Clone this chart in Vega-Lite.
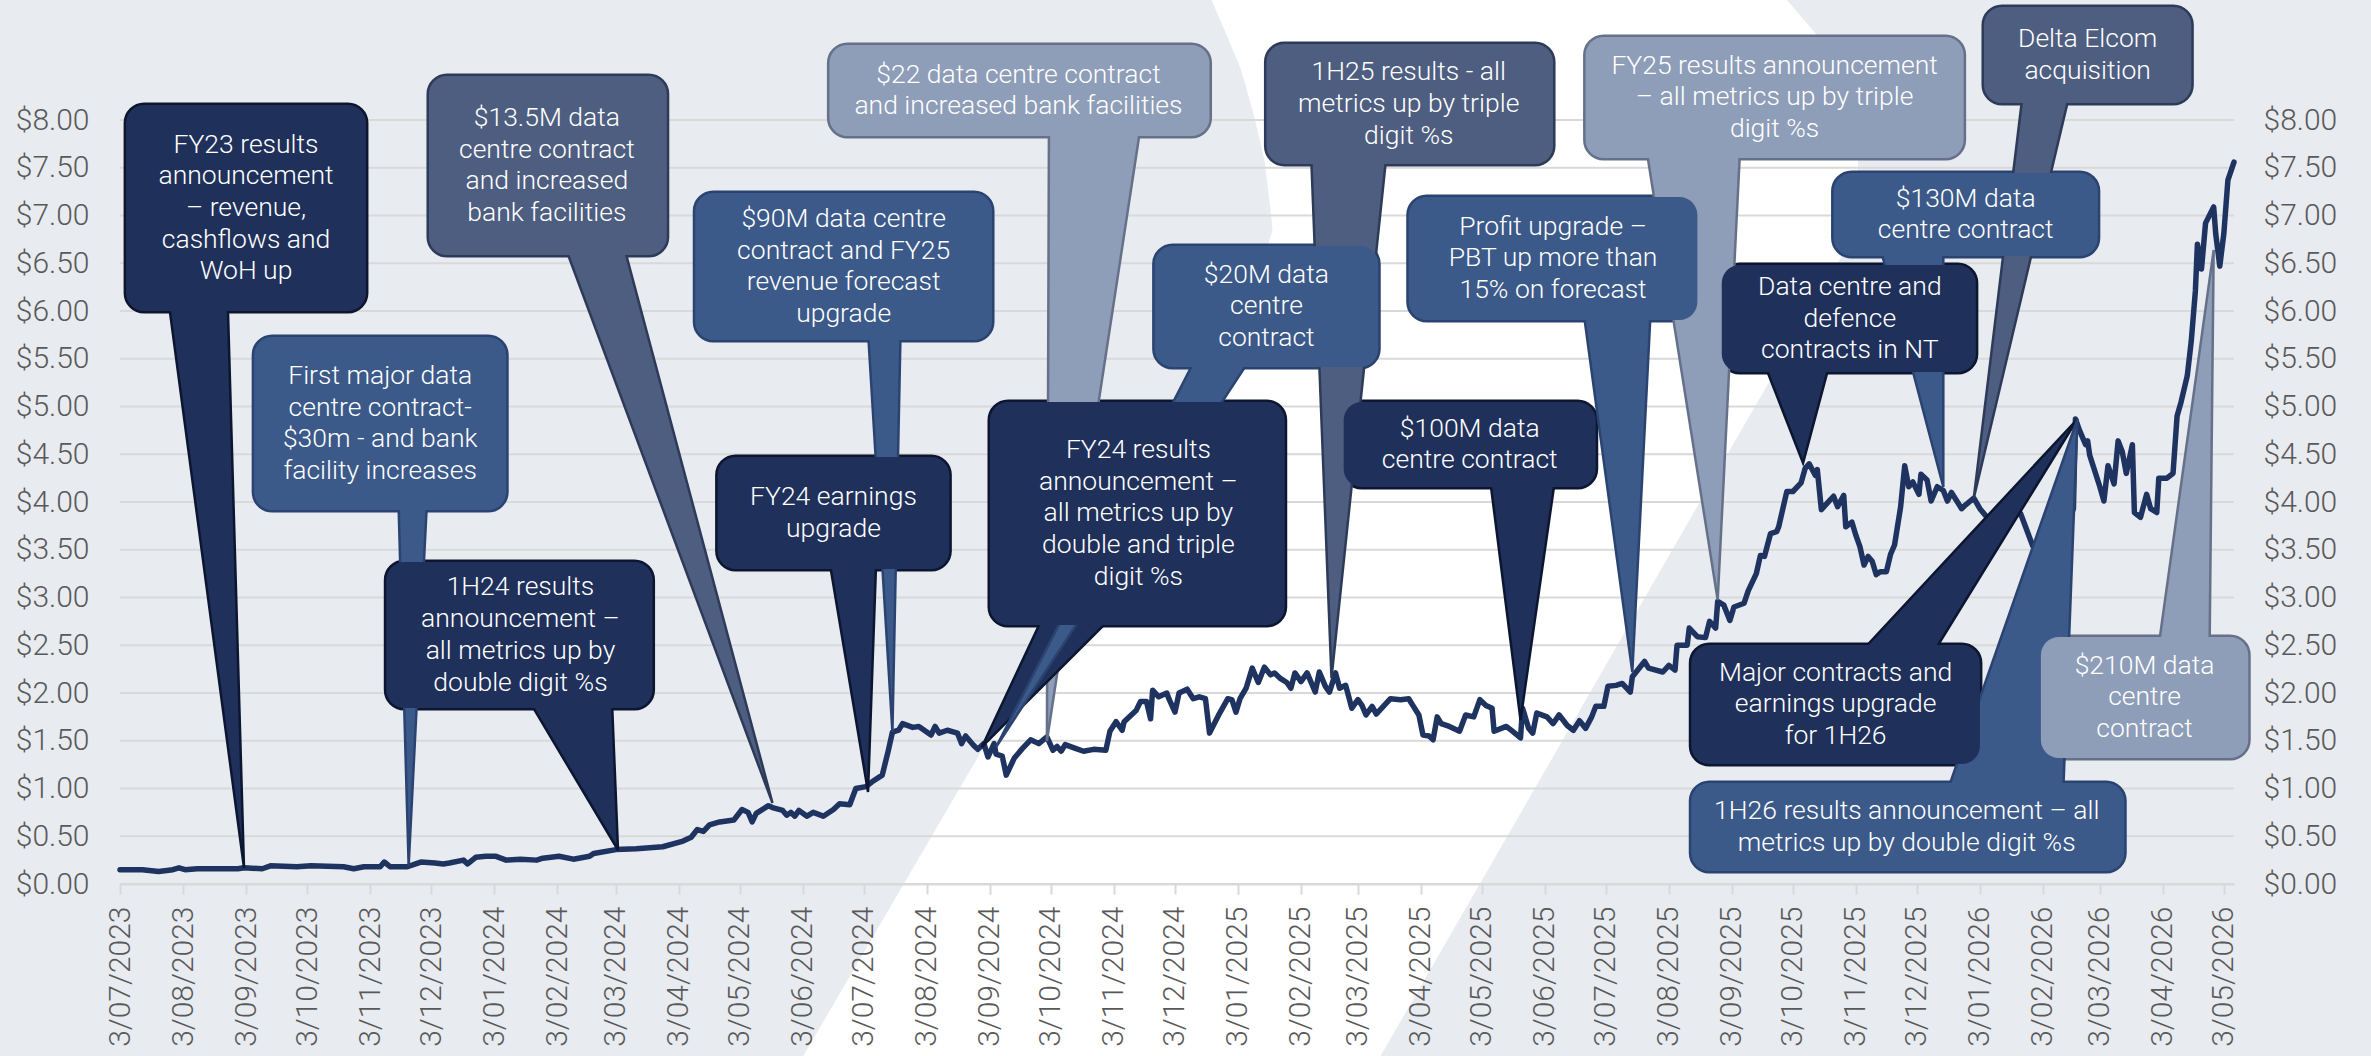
{
"$schema": "https://vega.github.io/schema/vega-lite/v6.json",
"width": 2114, "height": 764,
"autosize": {"type": "none"},
"padding": {"left": 120, "top": 120, "right": 137, "bottom": 172},
"background": "#e8ebf0",
"config": {"view": {"stroke": null},
"axisX": {"labelAngle": 270, "labelFont": "Roboto", "labelFontWeight": 300, "labelFontSize": 30, "labelColor": "#595959", "labelPadding": 12, "tickSize": 10, "tickColor": "#d9d9d9", "tickWidth": 2, "domainColor": "#d9d9d9", "domainWidth": 2, "grid": false, "labelOverlap": false, "labelBound": false, "labelFlush": false}},
"resolve": {"axis": {"y": "independent"}},
"datasets": {
"grid": [{"v":0},{"v":0.5},{"v":1},{"v":1.5},{"v":2},{"v":2.5},{"v":3},{"v":3.5},{"v":4},{"v":4.5},{"v":5},{"v":5.5},{"v":6},{"v":6.5},{"v":7},{"v":7.5},{"v":8}],
"swoosh": [
{"p":9.36,"xl":"2024-12-19","xr":"2025-09-27"},
{"p":9.257,"xl":"2024-12-21","xr":"2025-09-30"},
{"p":8.91,"xl":"2024-12-28","xr":"2025-10-14"},
{"p":8.555,"xl":"2025-01-04","xr":"2025-10-24"},
{"p":8.419,"xl":"2025-01-06","xr":"2025-10-26"},
{"p":8.031,"xl":"2025-01-11","xr":"2025-11-01"},
{"p":7.58,"xl":"2025-01-16","xr":"2025-11-04"},
{"p":7.058,"xl":"2025-01-19","xr":"2025-11-04"},
{"p":6.848,"xl":"2025-01-20","xr":"2025-11-01"},
{"p":6.639,"xl":"2025-01-17","xr":"2025-10-29"},
{"p":6.429,"xl":"2025-01-15","xr":"2025-10-23"},
{"p":-1.843,"xl":"2024-06-02","xr":"2025-03-13"}
],
"price": [
{"date":"2023-07-03","p":0.15},{"date":"2023-07-14","p":0.15},{"date":"2023-07-22","p":0.13},{"date":"2023-07-29","p":0.15},{"date":"2023-08-01","p":0.17},{"date":"2023-08-04","p":0.15},{"date":"2023-08-10","p":0.16},{"date":"2023-08-30","p":0.16},{"date":"2023-09-02","p":0.17},{"date":"2023-09-11","p":0.16},{"date":"2023-09-15","p":0.19},{"date":"2023-09-28","p":0.18},{"date":"2023-10-05","p":0.19},{"date":"2023-10-21","p":0.18},{"date":"2023-10-26","p":0.16},{"date":"2023-10-31","p":0.18},{"date":"2023-11-08","p":0.18},{"date":"2023-11-10","p":0.23},{"date":"2023-11-13","p":0.18},{"date":"2023-11-21","p":0.18},{"date":"2023-11-24","p":0.20},{"date":"2023-11-28","p":0.23},{"date":"2023-12-05","p":0.22},{"date":"2023-12-09","p":0.21},{"date":"2023-12-12","p":0.22},{"date":"2023-12-19","p":0.25},{"date":"2023-12-21","p":0.21},{"date":"2023-12-25","p":0.28},{"date":"2023-12-30","p":0.29},
{"date":"2024-01-04","p":0.29},{"date":"2024-01-09","p":0.25},{"date":"2024-01-16","p":0.26},{"date":"2024-01-24","p":0.25},{"date":"2024-01-27","p":0.27},{"date":"2024-02-04","p":0.29},{"date":"2024-02-11","p":0.26},{"date":"2024-02-19","p":0.29},{"date":"2024-02-21","p":0.32},{"date":"2024-03-03","p":0.36},{"date":"2024-03-13","p":0.37},{"date":"2024-03-26","p":0.39},{"date":"2024-04-05","p":0.45},{"date":"2024-04-09","p":0.49},{"date":"2024-04-12","p":0.57},{"date":"2024-04-15","p":0.55},{"date":"2024-04-18","p":0.62},{"date":"2024-04-23","p":0.65},{"date":"2024-04-30","p":0.67},{"date":"2024-05-04","p":0.78},{"date":"2024-05-07","p":0.75},{"date":"2024-05-09","p":0.65},{"date":"2024-05-11","p":0.74},{"date":"2024-05-17","p":0.82},{"date":"2024-05-19","p":0.80},{"date":"2024-05-24","p":0.77},{"date":"2024-05-26","p":0.72},{"date":"2024-05-28","p":0.75},{"date":"2024-05-30","p":0.71},{"date":"2024-06-01","p":0.77},{"date":"2024-06-05","p":0.71},{"date":"2024-06-08","p":0.75},{"date":"2024-06-13","p":0.71},{"date":"2024-06-18","p":0.78},{"date":"2024-06-21","p":0.84},{"date":"2024-06-26","p":0.83},{"date":"2024-06-29","p":1.00},{"date":"2024-07-04","p":1.02},{"date":"2024-07-07","p":1.07},{"date":"2024-07-12","p":1.14},{"date":"2024-07-15","p":1.40},{"date":"2024-07-17","p":1.59},{"date":"2024-07-20","p":1.61},{"date":"2024-07-22","p":1.68},{"date":"2024-07-27","p":1.64},{"date":"2024-07-30","p":1.65},{"date":"2024-08-05","p":1.56},{"date":"2024-08-07","p":1.65},{"date":"2024-08-09","p":1.58},{"date":"2024-08-13","p":1.61},{"date":"2024-08-18","p":1.58},{"date":"2024-08-20","p":1.47},{"date":"2024-08-22","p":1.55},{"date":"2024-08-26","p":1.45},{"date":"2024-08-28","p":1.41},{"date":"2024-08-31","p":1.47},{"date":"2024-09-02","p":1.33},{"date":"2024-09-05","p":1.47},{"date":"2024-09-06","p":1.36},{"date":"2024-09-09","p":1.34},{"date":"2024-09-11","p":1.14},{"date":"2024-09-15","p":1.32},{"date":"2024-09-19","p":1.42},{"date":"2024-09-23","p":1.51},{"date":"2024-09-27","p":1.47},{"date":"2024-10-01","p":1.54},{"date":"2024-10-04","p":1.40},{"date":"2024-10-06","p":1.44},{"date":"2024-10-08","p":1.39},{"date":"2024-10-10","p":1.46},{"date":"2024-10-15","p":1.42},{"date":"2024-10-19","p":1.39},{"date":"2024-10-24","p":1.41},{"date":"2024-10-30","p":1.40},{"date":"2024-11-01","p":1.60},{"date":"2024-11-04","p":1.70},{"date":"2024-11-07","p":1.61},{"date":"2024-11-08","p":1.70},{"date":"2024-11-14","p":1.82},{"date":"2024-11-16","p":1.91},{"date":"2024-11-19","p":1.91},{"date":"2024-11-21","p":1.73},{"date":"2024-11-22","p":2.03},{"date":"2024-11-25","p":1.96},{"date":"2024-11-29","p":2.00},{"date":"2024-11-30","p":1.94},{"date":"2024-12-03","p":1.80},{"date":"2024-12-05","p":2.00},{"date":"2024-12-09","p":2.04},{"date":"2024-12-12","p":1.94},{"date":"2024-12-15","p":1.96},{"date":"2024-12-18","p":1.94},{"date":"2024-12-20","p":1.58},{"date":"2024-12-25","p":1.79},{"date":"2024-12-29","p":1.94},{"date":"2024-12-31","p":1.93},
{"date":"2025-01-02","p":1.80},{"date":"2025-01-04","p":1.94},{"date":"2025-01-07","p":2.05},{"date":"2025-01-10","p":2.26},{"date":"2025-01-13","p":2.11},{"date":"2025-01-16","p":2.27},{"date":"2025-01-19","p":2.19},{"date":"2025-01-21","p":2.21},{"date":"2025-01-24","p":2.15},{"date":"2025-01-27","p":2.11},{"date":"2025-01-29","p":2.05},{"date":"2025-01-31","p":2.21},{"date":"2025-02-03","p":2.12},{"date":"2025-02-06","p":2.21},{"date":"2025-02-10","p":2.01},{"date":"2025-02-12","p":2.22},{"date":"2025-02-15","p":2.07},{"date":"2025-02-17","p":2.01},{"date":"2025-02-20","p":2.21},{"date":"2025-02-22","p":2.05},{"date":"2025-02-25","p":2.08},{"date":"2025-02-28","p":1.84},{"date":"2025-03-03","p":1.93},{"date":"2025-03-05","p":1.87},{"date":"2025-03-07","p":1.77},{"date":"2025-03-10","p":1.86},{"date":"2025-03-12","p":1.78},{"date":"2025-03-19","p":1.94},{"date":"2025-03-24","p":1.93},{"date":"2025-03-28","p":1.94},{"date":"2025-03-30","p":1.87},{"date":"2025-04-02","p":1.77},{"date":"2025-04-04","p":1.56},{"date":"2025-04-07","p":1.55},{"date":"2025-04-09","p":1.51},{"date":"2025-04-11","p":1.75},{"date":"2025-04-13","p":1.68},{"date":"2025-04-17","p":1.65},{"date":"2025-04-22","p":1.60},{"date":"2025-04-25","p":1.77},{"date":"2025-04-29","p":1.75},{"date":"2025-05-02","p":1.93},{"date":"2025-05-05","p":1.87},{"date":"2025-05-08","p":1.84},{"date":"2025-05-09","p":1.60},{"date":"2025-05-15","p":1.65},{"date":"2025-05-18","p":1.60},{"date":"2025-05-22","p":1.53},{"date":"2025-05-23","p":1.84},{"date":"2025-05-26","p":1.63},{"date":"2025-05-28","p":1.58},{"date":"2025-05-30","p":1.79},{"date":"2025-06-04","p":1.75},{"date":"2025-06-07","p":1.68},{"date":"2025-06-10","p":1.77},{"date":"2025-06-14","p":1.66},{"date":"2025-06-17","p":1.61},{"date":"2025-06-20","p":1.71},{"date":"2025-06-23","p":1.63},{"date":"2025-06-26","p":1.75},{"date":"2025-06-28","p":1.86},{"date":"2025-07-02","p":1.86},{"date":"2025-07-04","p":2.07},{"date":"2025-07-08","p":2.08},{"date":"2025-07-11","p":2.10},{"date":"2025-07-15","p":2.01},{"date":"2025-07-16","p":2.17},{"date":"2025-07-22","p":2.33},{"date":"2025-07-24","p":2.26},{"date":"2025-07-31","p":2.22},{"date":"2025-08-03","p":2.29},{"date":"2025-08-06","p":2.24},{"date":"2025-08-07","p":2.50},{"date":"2025-08-12","p":2.50},{"date":"2025-08-13","p":2.68},{"date":"2025-08-17","p":2.59},{"date":"2025-08-21","p":2.58},{"date":"2025-08-23","p":2.75},{"date":"2025-08-26","p":2.68},{"date":"2025-08-27","p":2.96},{"date":"2025-08-30","p":2.92},{"date":"2025-09-02","p":2.76},{"date":"2025-09-04","p":2.90},{"date":"2025-09-09","p":2.94},{"date":"2025-09-11","p":3.07},{"date":"2025-09-15","p":3.25},{"date":"2025-09-17","p":3.44},{"date":"2025-09-19","p":3.43},{"date":"2025-09-22","p":3.67},{"date":"2025-09-25","p":3.69},{"date":"2025-09-26","p":3.74},{"date":"2025-09-30","p":4.11},{"date":"2025-10-03","p":4.11},{"date":"2025-10-07","p":4.20},{"date":"2025-10-09","p":4.35},{"date":"2025-10-11","p":4.40},{"date":"2025-10-14","p":4.28},{"date":"2025-10-15","p":4.34},{"date":"2025-10-17","p":3.92},{"date":"2025-10-20","p":3.99},{"date":"2025-10-23","p":4.06},{"date":"2025-10-25","p":3.95},{"date":"2025-10-28","p":4.07},{"date":"2025-10-29","p":3.74},{"date":"2025-11-01","p":3.79},{"date":"2025-11-03","p":3.65},{"date":"2025-11-05","p":3.53},{"date":"2025-11-07","p":3.34},{"date":"2025-11-09","p":3.43},{"date":"2025-11-11","p":3.38},{"date":"2025-11-13","p":3.24},{"date":"2025-11-15","p":3.27},{"date":"2025-11-18","p":3.27},{"date":"2025-11-20","p":3.45},{"date":"2025-11-22","p":3.55},{"date":"2025-11-25","p":3.95},{"date":"2025-11-27","p":4.38},{"date":"2025-11-29","p":4.16},{"date":"2025-12-01","p":4.21},{"date":"2025-12-04","p":4.08},{"date":"2025-12-05","p":4.29},{"date":"2025-12-08","p":4.23},{"date":"2025-12-10","p":4.01},{"date":"2025-12-13","p":4.16},{"date":"2025-12-16","p":4.12},{"date":"2025-12-18","p":4.01},{"date":"2025-12-20","p":4.10},{"date":"2025-12-25","p":3.93},{"date":"2025-12-27","p":3.97},{"date":"2025-12-31","p":4.04},
{"date":"2026-01-03","p":3.93},{"date":"2026-01-08","p":3.80},{"date":"2026-01-13","p":3.75},{"date":"2026-01-19","p":3.86},{"date":"2026-01-23","p":3.88},{"date":"2026-01-26","p":3.71},{"date":"2026-01-29","p":3.54},{"date":"2026-02-05","p":3.52},{"date":"2026-02-12","p":3.62},{"date":"2026-02-18","p":3.93},{"date":"2026-02-19","p":4.87},{"date":"2026-02-21","p":4.75},{"date":"2026-02-24","p":4.60},{"date":"2026-02-25","p":4.64},{"date":"2026-02-26","p":4.49},{"date":"2026-03-03","p":4.16},{"date":"2026-03-05","p":4.01},{"date":"2026-03-07","p":4.38},{"date":"2026-03-10","p":4.19},{"date":"2026-03-12","p":4.64},{"date":"2026-03-14","p":4.53},{"date":"2026-03-16","p":4.30},{"date":"2026-03-19","p":4.60},{"date":"2026-03-20","p":3.89},{"date":"2026-03-23","p":3.84},{"date":"2026-03-26","p":4.08},{"date":"2026-03-28","p":3.93},{"date":"2026-03-31","p":3.89},{"date":"2026-04-01","p":4.25},{"date":"2026-04-05","p":4.25},{"date":"2026-04-08","p":4.30},{"date":"2026-04-09","p":4.60},{"date":"2026-04-10","p":4.90},{"date":"2026-04-12","p":5.05},{"date":"2026-04-15","p":5.32},{"date":"2026-04-17","p":5.69},{"date":"2026-04-19","p":6.21},{"date":"2026-04-20","p":6.70},{"date":"2026-04-22","p":6.44},{"date":"2026-04-24","p":6.92},{"date":"2026-04-28","p":7.09},{"date":"2026-04-29","p":6.81},{"date":"2026-05-01","p":6.47},{"date":"2026-05-03","p":6.81},{"date":"2026-05-05","p":7.37},{"date":"2026-05-08","p":7.56}
],
"boxes": [
{"id":1,"tone":"navy","x1":"2023-07-06","x2":"2023-11-01","y1":8.157,"y2":6.0,"cx":"2023-09-03","ty":7.743,"label":"FY23 results\nannouncement\n– revenue,\ncashflows and\nWoH up"},
{"id":2,"tone":"blue","x1":"2023-09-07","x2":"2024-01-09","y1":5.728,"y2":3.916,"cx":"2023-11-08","ty":5.32,"label":"First major data\ncentre contract-\n$30m - and bank\nfacility increases"},
{"id":3,"tone":"navy","x1":"2023-11-11","x2":"2024-03-21","y1":3.372,"y2":1.843,"cx":"2024-01-16","ty":3.105,"label":"1H24 results\nannouncement –\nall metrics up by\ndouble digit %s"},
{"id":4,"tone":"slate","x1":"2023-12-02","x2":"2024-03-28","y1":8.461,"y2":6.586,"cx":"2024-01-29","ty":8.022,"label":"$13.5M data\ncentre contract\nand increased\nbank facilities"},
{"id":5,"tone":"blue","x1":"2024-04-11","x2":"2024-09-04","y1":7.236,"y2":5.696,"cx":"2024-06-23","ty":6.964,"label":"$90M data centre\ncontract and FY25\nrevenue forecast\nupgrade"},
{"id":6,"tone":"navy","x1":"2024-04-22","x2":"2024-08-14","y1":4.471,"y2":3.298,"cx":"2024-06-18","ty":4.051,"label":"FY24 earnings\nupgrade"},
{"id":7,"tone":"light","x1":"2024-06-16","x2":"2024-12-20","y1":8.785,"y2":7.832,"cx":"2024-09-17","ty":8.475,"label":"$22 data centre contract\nand increased bank facilities"},
{"id":8,"tone":"navy","x1":"2024-09-03","x2":"2025-01-26","y1":5.047,"y2":2.712,"cx":"2024-11-15","ty":4.544,"label":"FY24 results\nannouncement –\nall metrics up by\ndouble and triple\ndigit %s"},
{"id":9,"tone":"blue","x1":"2024-11-23","x2":"2025-03-13","y1":6.681,"y2":5.414,"cx":"2025-01-17","ty":6.379,"label":"$20M data\ncentre\ncontract"},
{"id":10,"tone":"slate","x1":"2025-01-17","x2":"2025-06-07","y1":8.796,"y2":7.539,"cx":"2025-03-28","ty":8.5,"label":"1H25 results  - all\nmetrics up by triple\ndigit %s"},
{"id":11,"tone":"navy","x1":"2025-02-24","x2":"2025-06-28","y1":5.047,"y2":4.157,"cx":"2025-04-27","ty":4.768,"label":"$100M data\ncentre contract"},
{"id":12,"tone":"blue","x1":"2025-03-28","x2":"2025-08-17","y1":7.194,"y2":5.906,"cx":"2025-06-07","ty":6.882,"label":"Profit upgrade –\nPBT up more than\n15% on forecast"},
{"id":13,"tone":"light","x1":"2025-06-23","x2":"2025-12-26","y1":8.869,"y2":7.602,"cx":"2025-09-24","ty":8.568,"label":"FY25 results announcement\n– all metrics up by triple\ndigit %s"},
{"id":14,"tone":"navy","x1":"2025-08-29","x2":"2026-01-01","y1":6.482,"y2":5.361,"cx":"2025-10-31","ty":6.253,"label":"Data centre and\ndefence\ncontracts in NT"},
{"id":15,"tone":"blue","x1":"2025-10-23","x2":"2026-03-02","y1":7.445,"y2":6.576,"cx":"2025-12-27","ty":7.176,"label":"$130M data\ncentre contract"},
{"id":16,"tone":"slate","x1":"2026-01-05","x2":"2026-04-17","y1":9.183,"y2":8.178,"cx":"2026-02-25","ty":8.847,"label":"Delta Elcom\nacquisition"},
{"id":17,"tone":"navy","x1":"2025-08-14","x2":"2026-01-03","y1":2.503,"y2":1.257,"cx":"2025-10-24","ty":2.212,"label":"Major contracts and\nearnings upgrade\nfor 1H26"},
{"id":18,"tone":"blue","x1":"2025-08-14","x2":"2026-03-15","y1":1.058,"y2":0.136,"cx":"2025-11-28","ty":0.763,"label":"1H26 results announcement – all\nmetrics up by double digit %s"},
{"id":19,"tone":"light","x1":"2026-02-02","x2":"2026-05-15","y1":2.586,"y2":1.319,"cx":"2026-03-25","ty":2.285,"label":"$210M data\ncentre\ncontract"}
],
"pointers": [
{"id":1,"tone":"navy","py":6.084,"pa":"2023-07-27","pb":"2023-08-25"},{"id":1,"tone":"navy","py":0.168,"pa":"2023-09-02","pb":"2023-09-02"},
{"id":2,"tone":"blue","py":4.0,"pa":"2023-11-17","pb":"2023-12-01"},{"id":2,"tone":"blue","py":0.188,"pa":"2023-11-22","pb":"2023-11-22"},
{"id":3,"tone":"navy","py":1.927,"pa":"2024-01-20","pb":"2024-03-01"},{"id":3,"tone":"navy","py":0.356,"pa":"2024-03-04","pb":"2024-03-04"},
{"id":4,"tone":"slate","py":6.67,"pa":"2024-02-07","pb":"2024-03-07"},{"id":4,"tone":"slate","py":0.848,"pa":"2024-05-19","pb":"2024-05-19"},
{"id":5,"tone":"blue","py":5.78,"pa":"2024-07-05","pb":"2024-07-21"},{"id":5,"tone":"blue","py":1.592,"pa":"2024-07-17","pb":"2024-07-17"},
{"id":6,"tone":"navy","py":3.382,"pa":"2024-06-16","pb":"2024-07-09"},{"id":6,"tone":"navy","py":0.963,"pa":"2024-07-05","pb":"2024-07-05"},
{"id":7,"tone":"light","py":7.916,"pa":"2024-10-02","pb":"2024-11-16"},{"id":7,"tone":"light","py":1.497,"pa":"2024-10-01","pb":"2024-10-01"},
{"id":8,"tone":"navy","py":2.796,"pa":"2024-09-29","pb":"2024-11-02"},{"id":8,"tone":"navy","py":1.435,"pa":"2024-08-30","pb":"2024-08-30"},
{"id":9,"tone":"blue","py":5.497,"pa":"2024-12-13","pb":"2025-01-09"},{"id":9,"tone":"blue","py":1.435,"pa":"2024-09-06","pb":"2024-09-06"},
{"id":10,"tone":"slate","py":7.623,"pa":"2025-02-08","pb":"2025-03-17"},{"id":10,"tone":"slate","py":2.157,"pa":"2025-02-18","pb":"2025-02-18"},
{"id":11,"tone":"navy","py":4.241,"pa":"2025-05-07","pb":"2025-06-08"},{"id":11,"tone":"navy","py":1.717,"pa":"2025-05-22","pb":"2025-05-22"},
{"id":12,"tone":"blue","py":5.99,"pa":"2025-06-22","pb":"2025-07-25"},{"id":12,"tone":"blue","py":2.22,"pa":"2025-07-16","pb":"2025-07-16"},
{"id":13,"tone":"light","py":7.686,"pa":"2025-07-23","pb":"2025-09-07"},{"id":13,"tone":"light","py":2.974,"pa":"2025-08-27","pb":"2025-08-27"},
{"id":14,"tone":"navy","py":5.445,"pa":"2025-09-19","pb":"2025-10-21"},{"id":14,"tone":"navy","py":4.408,"pa":"2025-10-08","pb":"2025-10-08"},
{"id":15,"tone":"blue","py":6.66,"pa":"2025-11-15","pb":"2025-12-16"},{"id":15,"tone":"blue","py":4.157,"pa":"2025-12-16","pb":"2025-12-16"},
{"id":16,"tone":"slate","py":8.262,"pa":"2026-01-24","pb":"2026-02-16"},{"id":16,"tone":"slate","py":4.042,"pa":"2025-12-31","pb":"2025-12-31"},
{"id":17,"tone":"navy","py":2.419,"pa":"2025-11-05","pb":"2025-12-11"},{"id":17,"tone":"navy","py":4.869,"pa":"2026-02-20","pb":"2026-02-20"},
{"id":18,"tone":"blue","py":0.974,"pa":"2025-12-18","pb":"2026-02-13"},{"id":18,"tone":"blue","py":4.869,"pa":"2026-02-20","pb":"2026-02-20"},
{"id":19,"tone":"light","py":2.503,"pa":"2026-04-01","pb":"2026-04-26"},{"id":19,"tone":"light","py":6.639,"pa":"2026-04-28","pb":"2026-04-28"}
]
},
"layer": [
{
"data": {"name": "swoosh"},
"mark": {"type": "area", "orient": "horizontal", "color": "#ffffff"},
"encoding": {
"y": {"field": "p", "type": "quantitative", "stack": null, "scale": {"domain": [0, 8], "nice": false, "zero": false}, "axis": null},
"x": {"field": "xl", "type": "temporal", "title": null, "scale": {"domain": [1688342400000, 1778198400000]},
"axis": {"title": null, "zindex": 1, "values": [1688342400000,1691020800000,1693699200000,1696291200000,1698969600000,1701561600000,1704240000000,1706918400000,1709424000000,1712102400000,1714694400000,1717372800000,1719964800000,1722643200000,1725321600000,1727913600000,1730592000000,1733184000000,1735862400000,1738540800000,1740960000000,1743638400000,1746230400000,1748908800000,1751500800000,1754179200000,1756857600000,1759449600000,1762128000000,1764720000000,1767398400000,1770076800000,1772496000000,1775174400000,1777766400000], "labelExpr": "utcFormat(datum.value, '%-d/%m/%Y')"}},
"x2": {"field": "xr"}
}
},
{
"data": {"name": "grid"},
"mark": {"type": "rule", "color": "#d9d9d9", "strokeWidth": 2},
"encoding": {
"y": {"field": "v", "type": "quantitative", "scale": {"domain": [0, 8], "nice": false, "zero": false},
"axis": {"orient": "left", "values": [0,0.5,1,1.5,2,2.5,3,3.5,4,4.5,5,5.5,6,6.5,7,7.5,8], "format": "$.2f", "labelFont": "Roboto", "labelFontWeight": 300, "labelFontSize": 30, "labelColor": "#595959", "labelPadding": 31, "ticks": false, "tickSize": 0, "domain": false, "grid": false, "title": null, "zindex": 1}}
}
},
{
"data": {"name": "price"},
"mark": {"type": "line", "color": "#1f3361", "strokeWidth": 5.5, "strokeJoin": "round", "strokeCap": "round"},
"encoding": {
"x": {"field": "date", "type": "temporal", "title": null, "scale": {"domain": [1688342400000, 1778198400000]},
"axis": {"title": null, "zindex": 1, "values": [1688342400000,1691020800000,1693699200000,1696291200000,1698969600000,1701561600000,1704240000000,1706918400000,1709424000000,1712102400000,1714694400000,1717372800000,1719964800000,1722643200000,1725321600000,1727913600000,1730592000000,1733184000000,1735862400000,1738540800000,1740960000000,1743638400000,1746230400000,1748908800000,1751500800000,1754179200000,1756857600000,1759449600000,1762128000000,1764720000000,1767398400000,1770076800000,1772496000000,1775174400000,1777766400000], "labelExpr": "utcFormat(datum.value, '%-d/%m/%Y')"}},
"y": {"field": "p", "type": "quantitative", "scale": {"domain": [0, 8], "nice": false, "zero": false},
"axis": {"orient": "right", "values": [0,0.5,1,1.5,2,2.5,3,3.5,4,4.5,5,5.5,6,6.5,7,7.5,8], "format": "$.2f", "labelFont": "Roboto", "labelFontWeight": 300, "labelFontSize": 30, "labelColor": "#595959", "labelPadding": 29, "ticks": false, "tickSize": 0, "domain": false, "grid": false, "title": null, "zindex": 1}}
}
},
{
"data": {"name": "boxes"},
"mark": {"type": "rect", "cornerRadius": 18, "strokeWidth": 5},
"encoding": {
"x": {"field": "x1", "type": "temporal", "title": null, "scale": {"domain": [1688342400000, 1778198400000]},
"axis": {"title": null, "zindex": 1, "values": [1688342400000,1691020800000,1693699200000,1696291200000,1698969600000,1701561600000,1704240000000,1706918400000,1709424000000,1712102400000,1714694400000,1717372800000,1719964800000,1722643200000,1725321600000,1727913600000,1730592000000,1733184000000,1735862400000,1738540800000,1740960000000,1743638400000,1746230400000,1748908800000,1751500800000,1754179200000,1756857600000,1759449600000,1762128000000,1764720000000,1767398400000,1770076800000,1772496000000,1775174400000,1777766400000], "labelExpr": "utcFormat(datum.value, '%-d/%m/%Y')"}},
"x2": {"field": "x2"},
"y": {"field": "y1", "type": "quantitative", "scale": {"domain": [0, 8], "nice": false, "zero": false}, "axis": null},
"y2": {"field": "y2"},
"fill": {"field": "tone", "type": "nominal", "scale": {"domain": ["navy","blue","slate","light"], "range": ["#1f315b","#3c5a89","#4e5e80","#8e9db8"]}, "legend": null},
"stroke": {"field": "tone", "type": "nominal", "scale": {"domain": ["navy","blue","slate","light"], "range": ["#0c1631","#2a4371","#2e3b58","#667189"]}, "legend": null}
}
},
{
"data": {"name": "pointers"},
"mark": {"type": "area", "orient": "horizontal", "strokeWidth": 2.5, "strokeJoin": "miter"},
"encoding": {
"y": {"field": "py", "type": "quantitative", "stack": null, "scale": {"domain": [0, 8], "nice": false, "zero": false}, "axis": null},
"x": {"field": "pa", "type": "temporal", "stack": null, "title": null, "scale": {"domain": [1688342400000, 1778198400000]},
"axis": {"title": null, "zindex": 1, "values": [1688342400000,1691020800000,1693699200000,1696291200000,1698969600000,1701561600000,1704240000000,1706918400000,1709424000000,1712102400000,1714694400000,1717372800000,1719964800000,1722643200000,1725321600000,1727913600000,1730592000000,1733184000000,1735862400000,1738540800000,1740960000000,1743638400000,1746230400000,1748908800000,1751500800000,1754179200000,1756857600000,1759449600000,1762128000000,1764720000000,1767398400000,1770076800000,1772496000000,1775174400000,1777766400000], "labelExpr": "utcFormat(datum.value, '%-d/%m/%Y')"}},
"x2": {"field": "pb"},
"detail": {"field": "id", "type": "nominal"},
"fill": {"field": "tone", "type": "nominal", "scale": {"domain": ["navy","blue","slate","light"], "range": ["#1f315b","#3c5a89","#4e5e80","#8e9db8"]}, "legend": null},
"stroke": {"field": "tone", "type": "nominal", "scale": {"domain": ["navy","blue","slate","light"], "range": ["#0c1631","#2a4371","#2e3b58","#667189"]}, "legend": null}
}
},
{
"data": {"name": "boxes"},
"mark": {"type": "rect", "cornerRadius": 18},
"encoding": {
"x": {"field": "x1", "type": "temporal", "title": null, "scale": {"domain": [1688342400000, 1778198400000]},
"axis": {"title": null, "zindex": 1, "values": [1688342400000,1691020800000,1693699200000,1696291200000,1698969600000,1701561600000,1704240000000,1706918400000,1709424000000,1712102400000,1714694400000,1717372800000,1719964800000,1722643200000,1725321600000,1727913600000,1730592000000,1733184000000,1735862400000,1738540800000,1740960000000,1743638400000,1746230400000,1748908800000,1751500800000,1754179200000,1756857600000,1759449600000,1762128000000,1764720000000,1767398400000,1770076800000,1772496000000,1775174400000,1777766400000], "labelExpr": "utcFormat(datum.value, '%-d/%m/%Y')"}},
"x2": {"field": "x2"},
"y": {"field": "y1", "type": "quantitative", "scale": {"domain": [0, 8], "nice": false, "zero": false}, "axis": null},
"y2": {"field": "y2"},
"fill": {"field": "tone", "type": "nominal", "scale": {"domain": ["navy","blue","slate","light"], "range": ["#1f315b","#3c5a89","#4e5e80","#8e9db8"]}, "legend": null}
}
},
{
"data": {"name": "boxes"},
"mark": {"type": "text", "font": "Roboto", "fontWeight": 300, "fontSize": 26.5, "lineHeight": 31.7, "lineBreak": "\n", "color": "#ffffff", "align": "center", "baseline": "middle"},
"encoding": {
"x": {"field": "cx", "type": "temporal", "title": null, "scale": {"domain": [1688342400000, 1778198400000]},
"axis": {"title": null, "zindex": 1, "values": [1688342400000,1691020800000,1693699200000,1696291200000,1698969600000,1701561600000,1704240000000,1706918400000,1709424000000,1712102400000,1714694400000,1717372800000,1719964800000,1722643200000,1725321600000,1727913600000,1730592000000,1733184000000,1735862400000,1738540800000,1740960000000,1743638400000,1746230400000,1748908800000,1751500800000,1754179200000,1756857600000,1759449600000,1762128000000,1764720000000,1767398400000,1770076800000,1772496000000,1775174400000,1777766400000], "labelExpr": "utcFormat(datum.value, '%-d/%m/%Y')"}},
"y": {"field": "ty", "type": "quantitative", "scale": {"domain": [0, 8], "nice": false, "zero": false}, "axis": null},
"text": {"field": "label", "type": "nominal"}
}
}
]
}
